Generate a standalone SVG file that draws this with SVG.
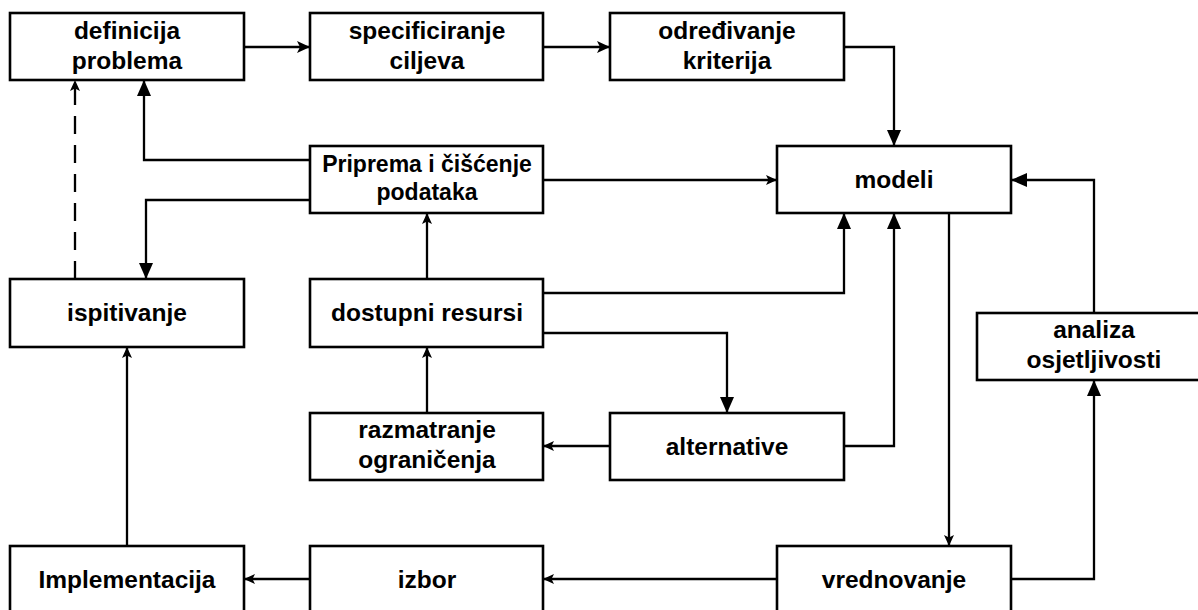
<svg xmlns="http://www.w3.org/2000/svg" width="1198" height="610" viewBox="0 0 1198 610">
<style>
.box{fill:#fff;stroke:#000;stroke-width:2.6}
.lbl{font-family:"Liberation Sans",Arial,sans-serif;font-weight:bold;font-size:24.5px;fill:#000;text-anchor:middle}
.sm{font-size:23px}
.c{fill:none;stroke:#000;stroke-width:2.3}
.big{marker-end:url(#mBig)}
.med{marker-end:url(#mMed)}
.small{marker-end:url(#mSmall)}
</style>
<defs>
<marker id="mBig" markerUnits="userSpaceOnUse" markerWidth="16" markerHeight="14" refX="16" refY="7" orient="auto"><path d="M0,0 L16,7 L0,14 z" fill="#000"/></marker>
<marker id="mMed" markerUnits="userSpaceOnUse" markerWidth="13" markerHeight="12" refX="13" refY="6" orient="auto"><path d="M0,0 L13,6 L0,12 L3,6 z" fill="#000"/></marker>
<marker id="mSmall" markerUnits="userSpaceOnUse" markerWidth="11" markerHeight="10" refX="11" refY="5" orient="auto"><path d="M0,0 L11,5 L0,10 L2.5,5 z" fill="#000"/></marker>
</defs>
<rect width="1198" height="610" fill="#fff"/>
<g id="connectors">
<path class="c med" d="M244,47 H310"/>
<path class="c med" d="M543,47 H610"/>
<path class="c big" d="M844,47 H894 V146"/>
<path class="c big" d="M310,160 H144 V80"/>
<path class="c big" d="M310,200 H146 V279"/>
<path class="c small" d="M543,180 H777"/>
<path class="c small" d="M75,279 V80" stroke-dasharray="18 11"/>
<path class="c small" d="M427,279 V213"/>
<path class="c big" d="M543,293 H844 V213"/>
<path class="c big" d="M543,333 H727 V413"/>
<path class="c big" d="M844,446 H894 V213"/>
<path class="c small" d="M610,446 H543"/>
<path class="c small" d="M427,413 V347"/>
<path class="c small" d="M949,213 V546"/>
<path class="c big" d="M1011,579 H1094 V380"/>
<path class="c big" d="M1094,313 V180 H1011"/>
<path class="c small" d="M777,579 H543"/>
<path class="c small" d="M310,579 H244"/>
<path class="c small" d="M127,546 V347"/>
</g>
<g id="definicija"><rect class="box" x="10" y="13" width="234" height="67"/><text class="lbl" x="127" y="39">definicija</text><text class="lbl" x="127" y="69">problema</text></g>
<g id="specificiranje"><rect class="box" x="310" y="13" width="233" height="67"/><text class="lbl" x="427" y="39">specificiranje</text><text class="lbl" x="427" y="69">ciljeva</text></g>
<g id="odredjivanje"><rect class="box" x="610" y="13" width="234" height="67"/><text class="lbl" x="727" y="39">određivanje</text><text class="lbl" x="727" y="69">kriterija</text></g>
<g id="priprema"><rect class="box" x="310" y="146" width="233" height="67"/><text class="lbl sm" x="427" y="172">Priprema i čišćenje</text><text class="lbl sm" x="427" y="200">podataka</text></g>
<g id="modeli"><rect class="box" x="777" y="146" width="234" height="67"/><text class="lbl" x="894" y="188">modeli</text></g>
<g id="ispitivanje"><rect class="box" x="10" y="279" width="234" height="68"/><text class="lbl" x="127" y="321">ispitivanje</text></g>
<g id="dostupni"><rect class="box" x="310" y="279" width="233" height="68"/><text class="lbl" x="427" y="321">dostupni resursi</text></g>
<g id="analiza"><rect class="box" x="977" y="313" width="234" height="67"/><text class="lbl" x="1094" y="338">analiza</text><text class="lbl" x="1094" y="368">osjetljivosti</text></g>
<g id="razmatranje"><rect class="box" x="310" y="413" width="233" height="67"/><text class="lbl" x="427" y="438">razmatranje</text><text class="lbl" x="427" y="468">ograničenja</text></g>
<g id="alternative"><rect class="box" x="610" y="413" width="234" height="67"/><text class="lbl" x="727" y="455">alternative</text></g>
<g id="implementacija"><rect class="box" x="10" y="546" width="234" height="68"/><text class="lbl" x="127" y="588">Implementacija</text></g>
<g id="izbor"><rect class="box" x="310" y="546" width="233" height="68"/><text class="lbl" x="427" y="588">izbor</text></g>
<g id="vrednovanje"><rect class="box" x="777" y="546" width="234" height="68"/><text class="lbl" x="894" y="588">vrednovanje</text></g>
</svg>
